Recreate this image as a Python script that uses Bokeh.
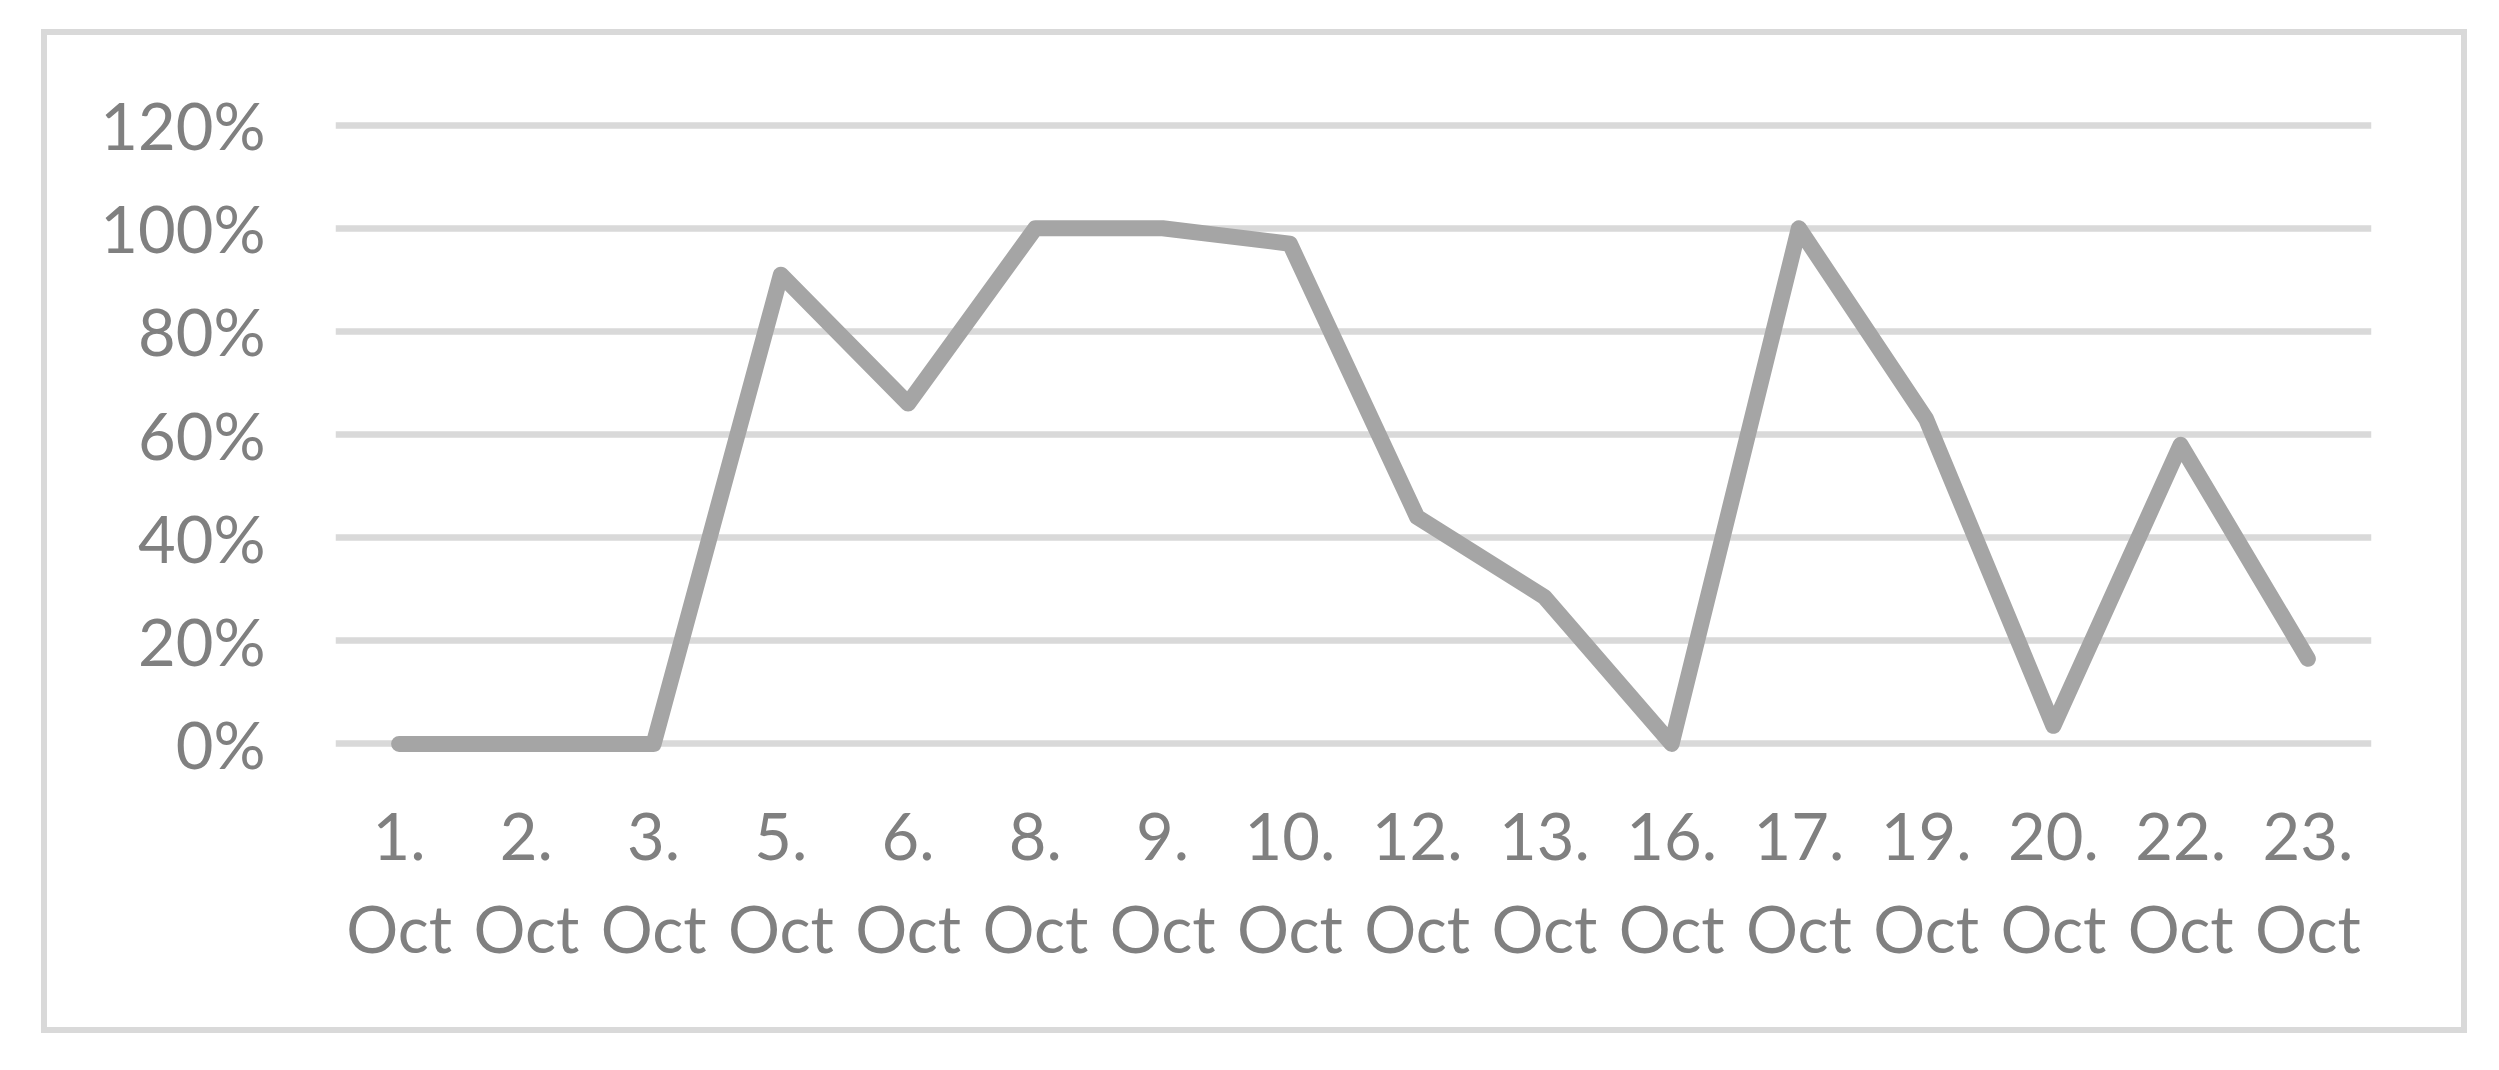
from bokeh.plotting import figure
from bokeh.models import FactorRange, Range1d, FixedTicker, NumeralTickFormatter
from bokeh.embed import file_html
from bokeh.resources import INLINE

# ---- data ----
days = ["1.", "2.", "3.", "5.", "6.", "8.", "9.", "10.", "12.", "13.",
        "16.", "17.", "19.", "20.", "22.", "23."]
month = "Oct"
values = [0.0, 0.0, 0.0, 0.91, 0.66, 1.0, 1.0, 0.97, 0.44, 0.285,
          0.0, 1.0, 0.63, 0.035, 0.58, 0.165]
y_ticks = [0.0, 0.2, 0.4, 0.6, 0.8, 1.0, 1.2]

factors = [f"{d}\n{month}" for d in days]

FONT = "Lato"
LABEL_COLOR = "#808080"
GRID_COLOR = "#d9d9d9"
LINE_COLOR = "#a5a5a5"

p = figure(
    width=2426, height=1004,
    x_range=FactorRange(*factors, range_padding=0),
    y_range=Range1d(-0.04, 1.24),
    output_backend="svg", toolbar_location=None,
    min_border_left=288, min_border_right=102,
    min_border_top=69, min_border_bottom=275,
    background_fill_color="white", border_fill_color="white",
)
p.styles = {"margin-left": "41px", "margin-top": "29px",
            "border": f"6.5px solid {GRID_COLOR}"}
p.outline_line_color = None

p.line(x=factors, y=values, line_color=LINE_COLOR, line_width=16,
       line_cap="round", line_join="round")

# grid
p.xgrid.grid_line_color = None
p.ygrid.grid_line_color = GRID_COLOR
p.ygrid.grid_line_width = 6.5
p.yaxis.ticker = FixedTicker(ticks=y_ticks)
p.yaxis.formatter = NumeralTickFormatter(format="0%")

for ax in (p.xaxis[0], p.yaxis[0]):
    ax.axis_line_color = None
    ax.major_tick_line_color = None
    ax.minor_tick_line_color = None
    ax.major_tick_out = 0
    ax.major_tick_in = 0
    ax.major_label_text_font = FONT
    ax.major_label_text_color = LABEL_COLOR
    ax.major_label_text_font_size = "65px"

p.yaxis.major_label_standoff = 70
p.xaxis.major_label_standoff = 31
p.xaxis.major_label_orientation = "horizontal"

open("out.html", "w").write(file_html(p, INLINE))
